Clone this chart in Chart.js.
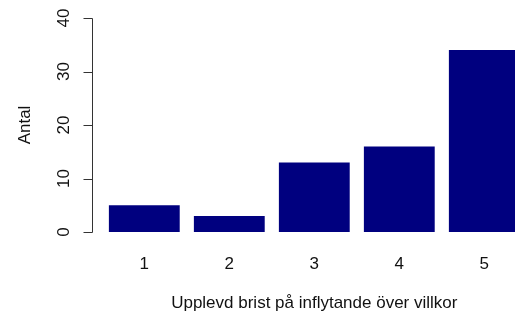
<!DOCTYPE html>
<html>
<head>
<meta charset="utf-8">
<script src="https://cdn.jsdelivr.net/npm/chart.js@4/dist/chart.umd.min.js"></script>
<style>
html, body { margin: 0; padding: 0; background: #fff; overflow: hidden; }
canvas { display: block; }
</style>
</head>
<body>
<canvas id="c" width="530" height="316"></canvas>
<script>
const categories = ["1", "2", "3", "4", "5"];
const counts = [5, 3, 13, 16, 34];
const yTicks = [0, 10, 20, 30, 40];
const xTitle = "Upplevd brist på inflytande över villkor";
const yTitle = "Antal";

const FONT = "'Liberation Sans', Arial, sans-serif";
const TEXT = "#111";

const yAxisPlugin = {
  id: 'rYAxis',
  afterDraw(chart) {
    const ctx = chart.ctx;
    const ys = chart.scales.y;
    const axisX = chart.chartArea.left - 9.6;
    ctx.save();
    ctx.strokeStyle = '#333';
    ctx.lineWidth = 1;
    ctx.beginPath();
    const yTop = ys.getPixelForValue(yTicks[yTicks.length - 1]);
    const yBot = ys.getPixelForValue(yTicks[0]);
    ctx.moveTo(Math.round(axisX) + 0.5, Math.round(yTop) + 0.5);
    ctx.lineTo(Math.round(axisX) + 0.5, Math.round(yBot) + 0.5);
    yTicks.forEach(v => {
      const py = Math.round(ys.getPixelForValue(v)) + 0.5;
      ctx.moveTo(Math.round(axisX) - 9 + 0.5, py);
      ctx.lineTo(Math.round(axisX) + 0.5, py);
    });
    ctx.stroke();
    ctx.fillStyle = TEXT;
    ctx.font = "17px " + FONT;
    ctx.textAlign = 'center';
    ctx.textBaseline = 'alphabetic';
    yTicks.forEach(v => {
      const py = ys.getPixelForValue(v);
      ctx.save();
      ctx.translate(axisX - 23, py);
      ctx.rotate(-Math.PI / 2);
      ctx.fillText(String(v), 0, 0);
      ctx.restore();
    });
    ctx.save();
    ctx.translate(axisX - 62, (yTop + yBot) / 2);
    ctx.rotate(-Math.PI / 2);
    ctx.fillText(yTitle, 0, 0);
    ctx.restore();
    ctx.restore();
  }
};

new Chart(document.getElementById('c'), {
  type: 'bar',
  data: {
    labels: categories,
    datasets: [{
      data: counts,
      backgroundColor: '#00007f',
      borderWidth: 0,
      categoryPercentage: 1,
      barPercentage: 1 / 1.2
    }]
  },
  options: {
    responsive: false,
    animation: false,
    events: [],
    layout: { padding: { left: 101.8, top: 18, right: 3.2, bottom: 0 } },
    plugins: { legend: { display: false }, tooltip: { enabled: false } },
    scales: {
      x: {
        grid: { display: false, drawTicks: false },
        border: { display: false },
        ticks: { color: TEXT, font: { family: FONT, size: 17 }, padding: 22 },
        title: { display: true, text: xTitle, color: TEXT, font: { family: FONT, size: 17 }, padding: { top: 0, bottom: 2 } },
        afterFit(scale) { scale.height = 84; }
      },
      y: {
        display: false,
        min: 0,
        max: 40
      }
    }
  },
  plugins: [yAxisPlugin]
});
</script>
</body>
</html>
